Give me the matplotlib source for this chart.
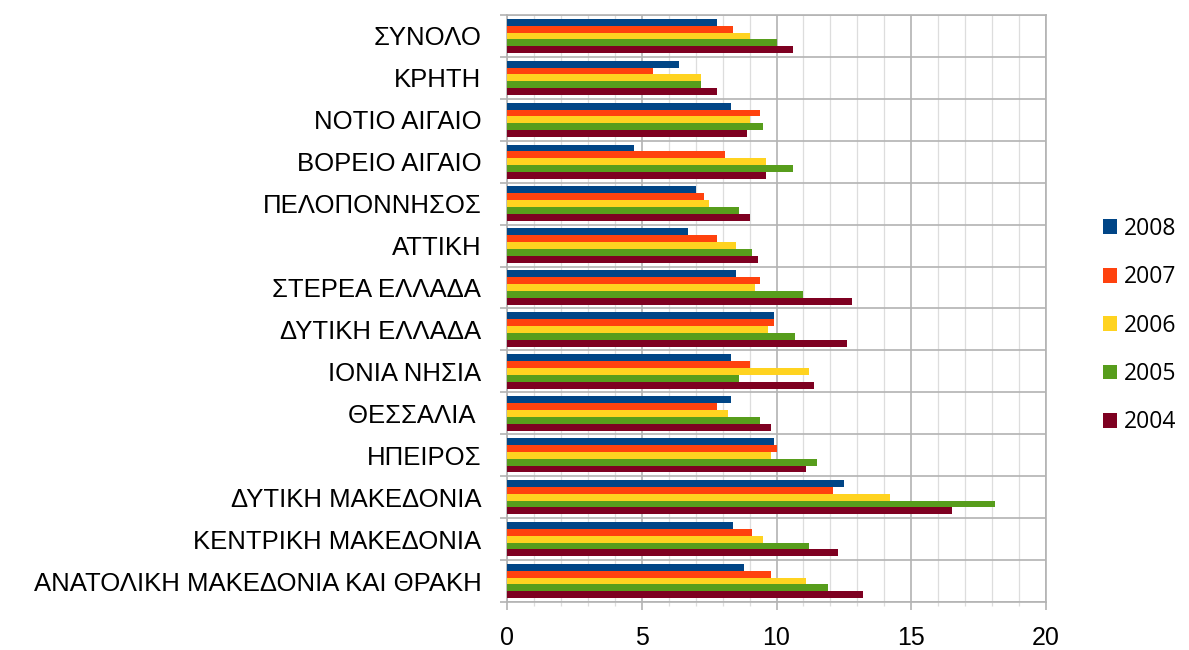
import matplotlib
matplotlib.use("Agg")
import matplotlib.pyplot as plt
import numpy as np
from matplotlib.patches import Patch
from matplotlib.ticker import MultipleLocator, FixedLocator, NullFormatter, FixedFormatter

# Categories from top to bottom as shown
categories = [
    "ΣΥΝΟΛΟ", "ΚΡΗΤΗ", "ΝΟΤΙΟ ΑΙΓΑΙΟ", "ΒΟΡΕΙΟ ΑΙΓΑΙΟ", "ΠΕΛΟΠΟΝΝΗΣΟΣ",
    "ΑΤΤΙΚΗ", "ΣΤΕΡΕΑ ΕΛΛΑΔΑ", "ΔΥΤΙΚΗ ΕΛΛΑΔΑ", "ΙΟΝΙΑ ΝΗΣΙΑ", "ΘΕΣΣΑΛΙΑ ",
    "ΗΠΕΙΡΟΣ", "ΔΥΤΙΚΗ ΜΑΚΕΔΟΝΙΑ", "ΚΕΝΤΡΙΚΗ ΜΑΚΕΔΟΝΙΑ",
    "ΑΝΑΤΟΛΙΚΗ ΜΑΚΕΔΟΝΙΑ ΚΑΙ ΘΡΑΚΗ",
]
series_names = ["2008", "2007", "2006", "2005", "2004"]
v2008 = [7.8, 6.4, 8.3, 4.7, 7.0, 6.7, 8.5, 9.9, 8.3, 8.3, 9.9, 12.5, 8.4, 8.8]
v2007 = [8.4, 5.4, 9.4, 8.1, 7.3, 7.8, 9.4, 9.9, 9.0, 7.8, 10.0, 12.1, 9.1, 9.8]
v2006 = [9.0, 7.2, 9.0, 9.6, 7.5, 8.5, 9.2, 9.7, 11.2, 8.2, 9.8, 14.2, 9.5, 11.1]
v2005 = [10.0, 7.2, 9.5, 10.6, 8.6, 9.1, 11.0, 10.7, 8.6, 9.4, 11.5, 18.1, 11.2, 11.9]
v2004 = [10.6, 7.8, 8.9, 9.6, 9.0, 9.3, 12.8, 12.6, 11.4, 9.8, 11.1, 16.5, 12.3, 13.2]
series_values = [v2008, v2007, v2006, v2005, v2004]
colors = ["#004586", "#ff420e", "#ffd320", "#579d1c", "#7e0021"]
x_ticks = [0, 5, 10, 15, 20]

LABEL_FONT = "Liberation Sans"

fig = plt.figure(figsize=(11.89, 6.5), dpi=100)
ax = fig.add_axes([507/1189, 48/650, (1046-507)/1189, (602-15)/650])

n = len(categories)
ypos = np.arange(n)[::-1]  # top category at highest y
bar_h = 0.164
offsets = (np.arange(5) - 2) * bar_h * -1  # 2008 on top

for j, (name, vals) in enumerate(zip(series_names, series_values)):
    ax.barh(ypos + offsets[j], vals, height=bar_h, color=colors[j],
            edgecolor="none", label=name, zorder=3)

ax.set_xlim(0, 20)
ax.set_ylim(-0.5, n - 0.5)

grid_major = "#b3b3b3"
grid_minor = "#dddddd"
ax.xaxis.set_major_locator(FixedLocator(x_ticks))
ax.xaxis.set_minor_locator(MultipleLocator(1))
ax.grid(axis="x", which="minor", color=grid_minor, linewidth=0.9, zorder=1)
ax.grid(axis="x", which="major", color=grid_major, linewidth=1.2, zorder=1)

# y: boundaries as major ticks with gridlines, labels at centers (minor)
ax.yaxis.set_major_locator(FixedLocator(np.arange(-0.5, n, 1.0)))
ax.yaxis.set_major_formatter(NullFormatter())
ax.yaxis.set_minor_locator(FixedLocator(ypos))
ax.yaxis.set_minor_formatter(FixedFormatter(categories))
ax.grid(axis="y", which="major", color=grid_major, linewidth=1.2, zorder=1)
ax.tick_params(axis="y", which="major", length=5, width=1.2, color=grid_major, direction="out")
ax.tick_params(axis="y", which="minor", length=0, pad=18.5, labelsize=18.5)
for lab in ax.yaxis.get_minorticklabels():
    lab.set_fontfamily(LABEL_FONT)

ax.tick_params(axis="x", which="major", length=6, width=1.2, color=grid_major,
               direction="out", labelsize=18, pad=11)
ax.tick_params(axis="x", which="minor", length=3, width=0.9, color=grid_minor, direction="out")
for lab in ax.get_xticklabels():
    lab.set_fontfamily(LABEL_FONT)

for s in ax.spines.values():
    s.set_color(grid_major)
    s.set_linewidth(1.2)
ax.set_axisbelow(True)

handles = [Patch(facecolor=c, edgecolor="none", label=nm) for c, nm in zip(colors, series_names)]
leg = fig.legend(handles=handles, loc="center left", bbox_to_anchor=(1103/1189, 0.499),
                 frameon=False, borderpad=0, borderaxespad=0, handlelength=0.62,
                 handleheight=0.62, handletextpad=0.3, labelspacing=1.065,
                 prop={"family": "Open Sans", "size": 16.5})

fig.savefig("out.png", dpi=100)
